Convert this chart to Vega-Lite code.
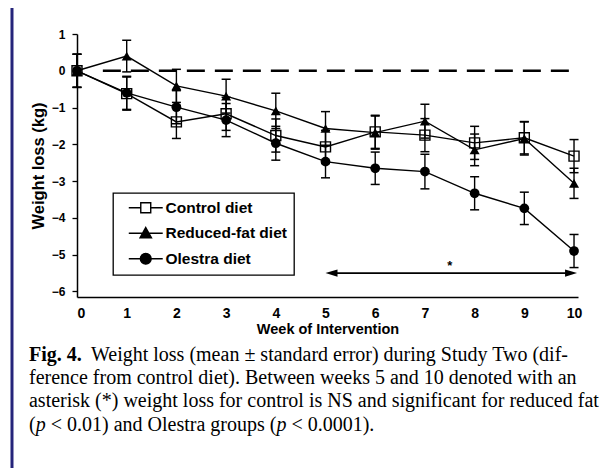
{
  "$schema": "https://vega.github.io/schema/vega-lite/v6.json",
  "width": 501,
  "height": 263,
  "autosize": {"type": "none"},
  "padding": {"left": 77, "top": 34, "right": 28, "bottom": 171},
  "background": "white",
  "config": {
    "view": {"stroke": null},
    "axis": {
      "grid": false,
      "domainColor": "black",
      "domainWidth": 1.5,
      "tickColor": "black",
      "tickWidth": 1.3,
      "labelColor": "black",
      "titleColor": "black",
      "labelFont": "Liberation Sans",
      "titleFont": "Liberation Sans",
      "labelFontWeight": "bold",
      "titleFontWeight": "bold"
    },
    "axisY": {"tickCount": 8, "labelOverlap": false, "labelBound": false},
    "legend": {
      "orient": "none",
      "legendX": 36,
      "legendY": 159,
      "strokeColor": "black",
      "strokeWidth": 1.3,
      "fillColor": "white",
      "padding": 7,
      "labelFont": "Liberation Sans",
      "labelFontWeight": "bold",
      "labelFontSize": 15.5,
      "labelColor": "black",
      "symbolSize": 144,
      "symbolStrokeWidth": 1.4,
      "symbolOffset": 18,
      "labelOffset": 12,
      "rowPadding": 7.5
    }
  },
  "datasets": {
    "weights": [
      {"week": 0, "group": "Olestra diet", "mean": 0, "lo": -0.45, "hi": 0.45},
      {"week": 1, "group": "Olestra diet", "mean": -0.6, "lo": -1.05, "hi": -0.15},
      {"week": 2, "group": "Olestra diet", "mean": -0.99, "lo": -1.44, "hi": -0.54},
      {"week": 3, "group": "Olestra diet", "mean": -1.34, "lo": -1.79, "hi": -0.89},
      {"week": 4, "group": "Olestra diet", "mean": -1.97, "lo": -2.43, "hi": -1.51},
      {"week": 5, "group": "Olestra diet", "mean": -2.47, "lo": -2.91, "hi": -2.03},
      {"week": 6, "group": "Olestra diet", "mean": -2.65, "lo": -3.09, "hi": -2.21},
      {"week": 7, "group": "Olestra diet", "mean": -2.74, "lo": -3.21, "hi": -2.27},
      {"week": 8, "group": "Olestra diet", "mean": -3.33, "lo": -3.78, "hi": -2.88},
      {"week": 9, "group": "Olestra diet", "mean": -3.74, "lo": -4.18, "hi": -3.3},
      {"week": 10, "group": "Olestra diet", "mean": -4.9, "lo": -5.35, "hi": -4.45},
      {"week": 0, "group": "Reduced-fat diet", "mean": 0, "lo": -0.45, "hi": 0.45},
      {"week": 1, "group": "Reduced-fat diet", "mean": 0.4, "lo": -0.03, "hi": 0.83},
      {"week": 2, "group": "Reduced-fat diet", "mean": -0.41, "lo": -0.86, "hi": 0.04},
      {"week": 3, "group": "Reduced-fat diet", "mean": -0.69, "lo": -1.15, "hi": -0.23},
      {"week": 4, "group": "Reduced-fat diet", "mean": -1.09, "lo": -1.57, "hi": -0.61},
      {"week": 5, "group": "Reduced-fat diet", "mean": -1.57, "lo": -2.03, "hi": -1.11},
      {"week": 6, "group": "Reduced-fat diet", "mean": -1.68, "lo": -2.13, "hi": -1.23},
      {"week": 7, "group": "Reduced-fat diet", "mean": -1.37, "lo": -1.83, "hi": -0.91},
      {"week": 8, "group": "Reduced-fat diet", "mean": -2.15, "lo": -2.58, "hi": -1.72},
      {"week": 9, "group": "Reduced-fat diet", "mean": -1.84, "lo": -2.29, "hi": -1.39},
      {"week": 10, "group": "Reduced-fat diet", "mean": -3.06, "lo": -3.47, "hi": -2.65},
      {"week": 0, "group": "Control diet", "mean": 0, "lo": -0.45, "hi": 0.45},
      {"week": 1, "group": "Control diet", "mean": -0.62, "lo": -1.07, "hi": -0.17},
      {"week": 2, "group": "Control diet", "mean": -1.39, "lo": -1.84, "hi": -0.94},
      {"week": 3, "group": "Control diet", "mean": -1.17, "lo": -1.62, "hi": -0.72},
      {"week": 4, "group": "Control diet", "mean": -1.76, "lo": -2.21, "hi": -1.31},
      {"week": 5, "group": "Control diet", "mean": -2.07, "lo": -2.52, "hi": -1.62},
      {"week": 6, "group": "Control diet", "mean": -1.66, "lo": -2.11, "hi": -1.21},
      {"week": 7, "group": "Control diet", "mean": -1.75, "lo": -2.2, "hi": -1.3},
      {"week": 8, "group": "Control diet", "mean": -1.96, "lo": -2.41, "hi": -1.51},
      {"week": 9, "group": "Control diet", "mean": -1.82, "lo": -2.26, "hi": -1.38},
      {"week": 10, "group": "Control diet", "mean": -2.32, "lo": -2.77, "hi": -1.87}
    ]
  },
  "layer": [
    {
      "data": {"name": "weights"},
      "encoding": {
        "x": {
          "field": "week",
          "type": "quantitative",
          "scale": {"domain": [0, 10.08], "nice": false, "zero": false},
          "axis": {
            "values": [0, 1, 2, 3, 4, 5, 6, 7, 8, 9, 10],
            "ticks": false,
            "tickSize": 0,
            "labelFontSize": 14,
            "labelPadding": 9,
            "title": "Week of Intervention",
            "titleFontSize": 14.5,
            "titlePadding": 2
          }
        },
        "y": {
          "field": "mean",
          "type": "quantitative",
          "scale": {"domain": [-6.15, 1], "nice": false, "zero": false},
          "axis": {
            "values": [-6, -5, -4, -3, -2, -1, 0, 1],
            "tickSize": 5,
            "labelFontSize": 12,
            "labelPadding": 7,
            "title": "Weight loss (kg)",
            "titleFontSize": 16.5,
            "titlePadding": 5
          }
        }
      },
      "layer": [
        {
          "mark": {"type": "line", "color": "black", "strokeWidth": 1.4},
          "encoding": {"detail": {"field": "group"}}
        },
        {
          "mark": {"type": "rule", "color": "black", "strokeWidth": 1.4},
          "encoding": {
            "y": {"field": "lo", "type": "quantitative", "title": "Weight loss (kg)"},
            "y2": {"field": "hi"}
          }
        },
        {
          "mark": {"type": "tick", "orient": "horizontal", "color": "black", "size": 9, "thickness": 1.5, "opacity": 1},
          "encoding": {"y": {"field": "lo", "type": "quantitative", "title": "Weight loss (kg)"}}
        },
        {
          "mark": {"type": "tick", "orient": "horizontal", "color": "black", "size": 9, "thickness": 1.5, "opacity": 1},
          "encoding": {"y": {"field": "hi", "type": "quantitative", "title": "Weight loss (kg)"}}
        },
        {
          "transform": [{"filter": "datum.group === 'Olestra diet'"}],
          "mark": {"type": "point", "shape": "circle", "filled": true, "color": "black", "size": 95, "opacity": 1}
        },
        {
          "transform": [{"filter": "datum.group === 'Reduced-fat diet'"}],
          "mark": {"type": "point", "shape": "triangle-up", "filled": true, "color": "black", "size": 100, "opacity": 1}
        },
        {
          "transform": [{"filter": "datum.group === 'Control diet'"}],
          "mark": {"type": "point", "shape": "square", "filled": false, "color": "black", "strokeWidth": 1.4, "size": 100, "opacity": 1}
        }
      ]
    },
    {
      "data": {"values": [{}]},
      "mark": {"type": "rule", "color": "#25247a", "strokeWidth": 3, "clip": false},
      "encoding": {
        "x": {"datum": -1.308},
        "y": {"datum": 1.707},
        "y2": {"datum": -10.8}
      }
    },
    {
      "data": {"values": [{}]},
      "mark": {"type": "rule", "color": "black", "strokeWidth": 2.6, "strokeDash": [18, 10]},
      "encoding": {
        "x": {"datum": 0.52},
        "x2": {"datum": 10},
        "y": {"datum": 0}
      }
    },
    {
      "data": {"values": [{}]},
      "mark": {"type": "rule", "color": "black", "strokeWidth": 1.6},
      "encoding": {
        "x": {"datum": 5.1},
        "x2": {"datum": 9.95},
        "y": {"datum": -5.5}
      }
    },
    {
      "data": {"values": [{}]},
      "mark": {"type": "point", "filled": true, "color": "black", "opacity": 1, "size": 144, "shape": "M-1,0L1,-0.6L1,0.6Z"},
      "encoding": {"x": {"datum": 5.12}, "y": {"datum": -5.5}}
    },
    {
      "data": {"values": [{}]},
      "mark": {"type": "point", "filled": true, "color": "black", "opacity": 1, "size": 144, "shape": "M1,0L-1,-0.6L-1,0.6Z"},
      "encoding": {"x": {"datum": 9.94}, "y": {"datum": -5.5}}
    },
    {
      "data": {"values": [{}]},
      "mark": {"type": "text", "text": "*", "font": "Liberation Sans", "fontWeight": "bold", "fontSize": 13, "baseline": "middle", "color": "black"},
      "encoding": {"x": {"datum": 7.5}, "y": {"datum": -5.3}}
    },
    {
      "data": {"name": "weights"},
      "transform": [{"filter": "datum.week === 0"}],
      "mark": {"type": "point", "filled": false, "color": "black", "opacity": 1, "strokeWidth": 1.4, "clip": false},
      "encoding": {
        "x": {"datum": 0},
        "y": {"datum": -20},
        "shape": {
          "field": "group",
          "type": "nominal",
          "scale": {
            "domain": ["Control diet", "Reduced-fat diet", "Olestra diet"],
            "range": [
              "M-2.83,0H-0.83M0.83,0H2.83M-0.83,-0.83H0.83V0.83H-0.83Z",
              "M-2.83,0H2.83M0,-0.95L0.95,0.75H-0.95Z",
              "M-2.83,0H2.83M-0.9,0A0.9,0.9 0 1,0 0.9,0A0.9,0.9 0 1,0 -0.9,0Z"
            ]
          },
          "legend": {"title": null}
        },
        "fill": {
          "field": "group",
          "type": "nominal",
          "scale": {"domain": ["Control diet", "Reduced-fat diet", "Olestra diet"], "range": ["white", "black", "black"]},
          "legend": {"title": null}
        }
      }
    },
    {
      "data": {"values": [{}]},
      "mark": {"type": "text", "text": "Fig. 4.", "font": "Liberation Serif", "fontWeight": "bold", "fontSize": 20, "align": "left", "baseline": "alphabetic", "color": "black"},
      "encoding": {"x": {"datum": -0.966}, "y": {"datum": -7.891}}
    },
    {
      "data": {"values": [{}]},
      "mark": {"type": "text", "text": "Weight loss (mean ± standard error) during Study Two (dif-", "font": "Liberation Serif", "fontSize": 20, "align": "left", "baseline": "alphabetic", "color": "black"},
      "encoding": {"x": {"datum": 0.282}, "y": {"datum": -7.891}}
    },
    {
      "data": {"values": [{}]},
      "mark": {"type": "text", "text": "ference from control diet). Between weeks 5 and 10 denoted with an", "font": "Liberation Serif", "fontSize": 20, "align": "left", "baseline": "alphabetic", "color": "black"},
      "encoding": {"x": {"datum": -0.966}, "y": {"datum": -8.516}}
    },
    {
      "data": {"values": [{}]},
      "mark": {"type": "text", "text": "asterisk (*) weight loss for control is NS and significant for reduced fat", "font": "Liberation Serif", "fontSize": 20, "align": "left", "baseline": "alphabetic", "color": "black"},
      "encoding": {"x": {"datum": -0.966}, "y": {"datum": -9.141}}
    },
    {
      "data": {"values": [{}]},
      "mark": {"type": "text", "text": "(", "font": "Liberation Serif", "fontSize": 20, "align": "left", "baseline": "alphabetic", "color": "black"},
      "encoding": {"x": {"datum": -0.966}, "y": {"datum": -9.794}}
    },
    {
      "data": {"values": [{}]},
      "mark": {"type": "text", "text": "p", "font": "Liberation Serif", "fontStyle": "italic", "fontSize": 20, "align": "left", "baseline": "alphabetic", "color": "black"},
      "encoding": {"x": {"datum": -0.831}, "y": {"datum": -9.794}}
    },
    {
      "data": {"values": [{}]},
      "mark": {"type": "text", "text": "< 0.01) and Olestra groups (", "font": "Liberation Serif", "fontSize": 20, "align": "left", "baseline": "alphabetic", "color": "black"},
      "encoding": {"x": {"datum": -0.529}, "y": {"datum": -9.794}}
    },
    {
      "data": {"values": [{}]},
      "mark": {"type": "text", "text": "p", "font": "Liberation Serif", "fontStyle": "italic", "fontSize": 20, "align": "left", "baseline": "alphabetic", "color": "black"},
      "encoding": {"x": {"datum": 4.012}, "y": {"datum": -9.794}}
    },
    {
      "data": {"values": [{}]},
      "mark": {"type": "text", "text": "< 0.0001).", "font": "Liberation Serif", "fontSize": 20, "align": "left", "baseline": "alphabetic", "color": "black"},
      "encoding": {"x": {"datum": 4.314}, "y": {"datum": -9.794}}
    }
  ]
}
